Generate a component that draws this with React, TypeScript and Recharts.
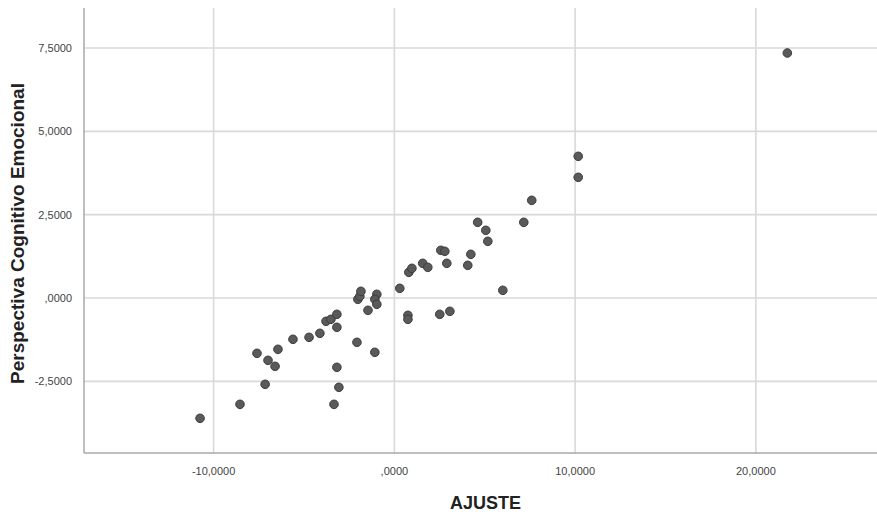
import React from 'react';
import { ScatterChart, Scatter, XAxis, YAxis, ReferenceLine, Label } from 'recharts';

const ajuste = [
  -10.75, -8.54, -7.15, -7.6, -6.99, -6.6, -6.44, -5.61, -4.72, -4.12,
  -3.78, -3.51, -3.18, -3.18, -3.18, -3.07, -3.34, -2.07, -2.02, -1.91,
  -1.85, -1.46, -1.08, -0.97, -1.08, -0.97, 0.3, 0.75, 0.75, 0.8,
  0.97, 1.57, 1.85, 2.57, 2.79, 2.9, 4.06, 4.23, 2.51, 3.07,
  4.61, 5.06, 5.17, 6.0, 7.16, 7.6, 10.17, 10.17, 21.74,
];
const perspectiva = [
  -3.61, -3.19, -2.59, -1.66, -1.87, -2.05, -1.54, -1.24, -1.18, -1.06,
  -0.7, -0.64, -0.49, -0.88, -2.08, -2.68, -3.19, -1.33, -0.04, 0.05,
  0.2, -0.37, -1.63, 0.11, -0.04, -0.19, 0.29, -0.52, -0.64, 0.77,
  0.89, 1.04, 0.92, 1.43, 1.4, 1.04, 0.98, 1.31, -0.49, -0.4,
  2.27, 2.03, 1.7, 0.23, 2.27, 2.93, 4.25, 3.62, 7.35,
];
const xTicks = [-10, 0, 10, 20];
const yTicks = [-2.5, 0, 2.5, 5, 7.5];

const data = ajuste.map((x, i) => ({ x, y: perspectiva[i] }));

const fmt = (v: number) => v.toFixed(4).replace('.', ',').replace(/^(-?)0,/, '$1,');

const font = '"Liberation Sans", Arial, sans-serif';

export default function App() {
  return (
    <div style={{ position: 'absolute', left: 0, top: 0, width: 877, height: 514, background: '#fff' }}>
      <ScatterChart width={877} height={514} margin={{ top: 8, right: 0, bottom: 0, left: 0 }}>
        <XAxis
          type="number"
          dataKey="x"
          domain={[-17.17, 26.7]}
          ticks={xTicks}
          tickFormatter={fmt}
          height={61}
          tickLine={false}
          axisLine={{ stroke: '#a8a8a8', strokeWidth: 1.5 }}
          tickMargin={8}
          tick={{ fill: '#444', fontSize: 11, fontFamily: font }}
          allowDataOverflow
        >
          <Label
            value="AJUSTE"
            position="insideBottom"
            offset={5}
            dx={5}
            style={{ fill: '#222', fontSize: 18, fontWeight: 'bold', fontFamily: font }}
          />
        </XAxis>
        <YAxis
          type="number"
          dataKey="y"
          domain={[-4.65, 8.7]}
          ticks={yTicks}
          tickFormatter={fmt}
          width={84}
          tickLine={false}
          axisLine={{ stroke: '#a8a8a8', strokeWidth: 1.5 }}
          tickMargin={6}
          tick={{ fill: '#444', fontSize: 11, fontFamily: font }}
          allowDataOverflow
        >
          <Label
            value="Perspectiva Cognitivo Emocional"
            angle={-90}
            position="insideLeft"
            offset={17}
            dy={3}
            style={{ textAnchor: 'middle', fill: '#222', fontSize: 19, fontWeight: 'bold', fontFamily: font }}
          />
        </YAxis>
        {yTicks.map((t) => (
          <ReferenceLine key={'y' + t} y={t} stroke="#d9d9d9" strokeWidth={1.6} />
        ))}
        {xTicks.map((t) => (
          <ReferenceLine key={'x' + t} x={t} stroke="#d9d9d9" strokeWidth={1.6} />
        ))}
        <Scatter
          data={data}
          isAnimationActive={false}
          shape={(p: any) => (
            <circle cx={p.cx} cy={p.cy} r={4.3} fill="#5a5a5a" stroke="#3c3c3c" strokeWidth={1} />
          )}
        />
      </ScatterChart>
    </div>
  );
}
